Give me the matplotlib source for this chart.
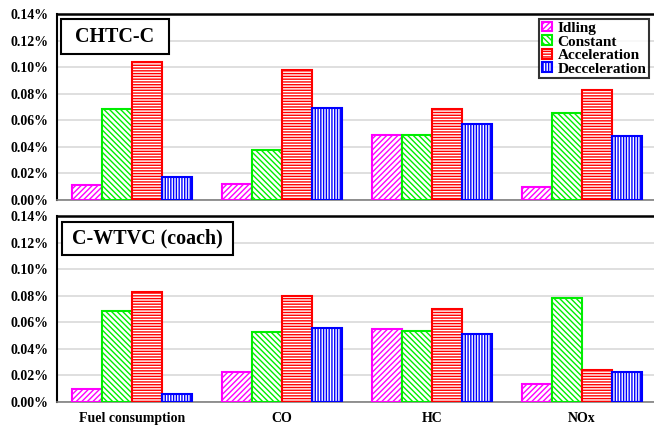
import matplotlib.pyplot as plt
from matplotlib.patches import Rectangle
import numpy as np

plt.rcParams['font.family'] = ['Liberation Serif', 'DejaVu Serif']
plt.rcParams['font.weight'] = 'bold'
plt.rcParams['hatch.linewidth'] = 1.0

categories = ['Fuel consumption', 'CO', 'HC', 'NOx']
modes = ['Idling', 'Constant', 'Acceleration', 'Decceleration']

# share of each driving mode, in %
chtc_c = {
    'Idling': [0.0113, 0.0118, 0.0490, 0.0098],
    'Constant': [0.0683, 0.0374, 0.0490, 0.0655],
    'Acceleration': [0.1041, 0.0980, 0.0685, 0.0828],
    'Decceleration': [0.0173, 0.0695, 0.0570, 0.0480],
}
c_wtvc = {
    'Idling': [0.0096, 0.0228, 0.0547, 0.0133],
    'Constant': [0.0685, 0.0529, 0.0537, 0.0785],
    'Acceleration': [0.0826, 0.0795, 0.0702, 0.0243],
    'Decceleration': [0.0060, 0.0559, 0.0510, 0.0226],
}
yticks = [0.00, 0.02, 0.04, 0.06, 0.08, 0.10, 0.12, 0.14]

colors = ['#ff00ff', '#00ee00', '#ff0000', '#0000ff']
hatches = ['//////', '\\\\\\\\\\\\', '------', '||||||']


def drawPanel(ax, data, title, box):
    x = np.arange(len(categories))
    width = 0.2
    for i, mode in enumerate(modes):
        ax.bar(x + (i - 1.5) * width, data[mode], width, facecolor='white',
               edgecolor=colors[i], hatch=hatches[i], linewidth=1.5,
               label=mode, zorder=3)
    ax.set_xlim(-0.5, 3.48)
    ax.set_ylim(0, 0.14)
    ax.set_yticks(yticks)
    ax.set_yticklabels(['%.2f%%' % v for v in yticks], fontsize=10, fontweight='bold')
    ax.yaxis.grid(True, color='#d9d9d9', linewidth=1.2, zorder=0)
    ax.tick_params(axis='y', length=0, pad=6)
    ax.tick_params(axis='x', length=0, pad=7)
    ax.spines['left'].set_linewidth(1.5)
    ax.spines['top'].set_linewidth(1.8)
    ax.spines['right'].set_visible(False)
    ax.spines['bottom'].set_color('#808080')
    ax.spines['bottom'].set_linewidth(1.2)

    # framed panel title
    x0, y0, w, h = box
    ax.add_patch(Rectangle((x0, y0), w, h, transform=ax.transAxes,
                           facecolor='white', edgecolor='black', linewidth=1.5,
                           zorder=5, clip_on=False))
    ax.text(x0 + w / 2, y0 + h / 2, title, transform=ax.transAxes,
            fontsize=14.4, fontweight='bold', va='center', ha='center', zorder=6)


fig = plt.figure(figsize=(6.54, 4.26), dpi=100)
axTop = fig.add_axes([57 / 654, 226 / 426, 1 - 57 / 654, 186 / 426])
axBottom = fig.add_axes([57 / 654, 24 / 426, 1 - 57 / 654, 186 / 426])

drawPanel(axTop, chtc_c, 'CHTC-C', (0.0067, 0.785, 0.181, 0.188))
drawPanel(axBottom, c_wtvc, 'C-WTVC (coach)', (0.0084, 0.790, 0.2864, 0.178))

leg = axTop.legend(loc='upper right', bbox_to_anchor=(0.9916, 0.973),
                   fontsize=11, frameon=True, fancybox=False,
                   handlelength=0.65, handleheight=0.6, handletextpad=0.35,
                   labelspacing=0.02, borderpad=0.18, borderaxespad=0)
leg.get_frame().set_edgecolor('black')
leg.get_frame().set_linewidth(1.5)
leg.set_zorder(6)
for t in leg.get_texts():
    t.set_fontweight('bold')

axTop.set_xticks(np.arange(len(categories)))
axTop.set_xticklabels([])
axBottom.set_xticks(np.arange(len(categories)))
axBottom.set_xticklabels(categories, fontsize=10, fontweight='bold')

fig.savefig('out.png', dpi=100)
